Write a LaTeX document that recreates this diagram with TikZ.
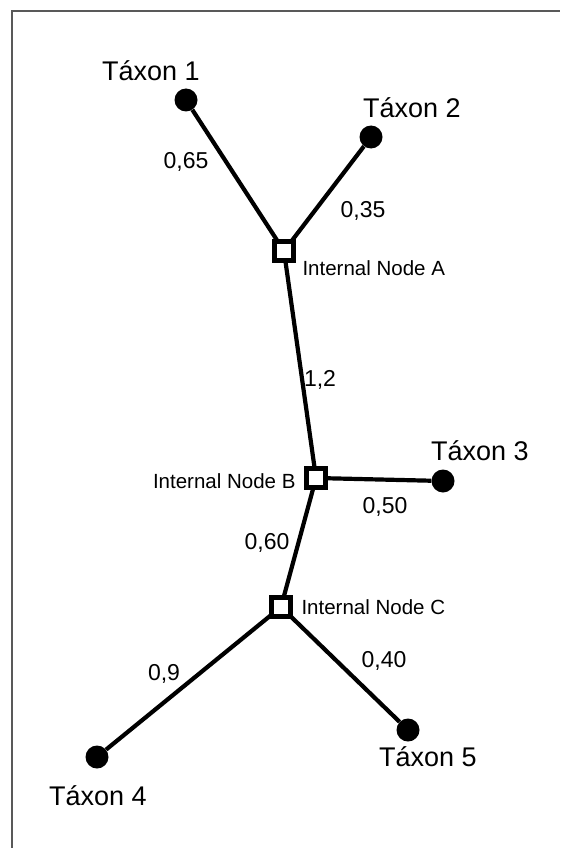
\documentclass[tikz,border=0pt]{standalone}
\usepackage{fontspec}
\setmainfont{Liberation Sans}
\begin{document}
\begin{tikzpicture}[x=1pt,y=-1pt,
  edge/.style={line width=4.2pt},
  leaf/.style={circle,fill=black,minimum size=23pt,inner sep=0pt},
  inner/.style={rectangle,draw=black,fill=white,line width=4.5pt,minimum size=19pt,inner sep=0pt},
  taxon/.style={font=\fontsize{27}{31}\selectfont},
  small/.style={font=\fontsize{20.5}{24}\selectfont},
  elabel/.style={font=\fontsize{23}{27}\selectfont}]
\useasboundingbox (0,0) rectangle (560,848);
\fill[white] (0,0) rectangle (560,848);
\draw[gray!70!black,line width=2pt] (11.5,848) -- (11.5,11.5) -- (560,11.5);
% nodes
\node[leaf] (t1) at (186,100) {};
\node[leaf] (t2) at (371,137) {};
\node[leaf] (t3) at (443,481) {};
\node[leaf] (t4) at (97,757) {};
\node[leaf] (t5) at (408,730) {};
\coordinate (A) at (284,251);
\coordinate (B) at (316,478);
\coordinate (C) at (281,607);
% edges
\draw[edge] (t1) -- (A);
\draw[edge] (t2) -- (A);
\draw[edge] (A) -- (B);
\draw[edge] (B) -- (t3);
\draw[edge] (B) -- (C);
\draw[edge] (C) -- (t4);
\draw[edge] (C) -- (t5);
\node[inner] (nA) at (A) {};
\node[inner] (nB) at (B) {};
\node[inner] (nC) at (C) {};
% labels
\node[taxon] (l1) at (151,71) {Táxon 1};
\node[taxon] (l2) at (412,108) {Táxon 2};
\node[taxon] (l3) at (480,451) {Táxon 3};
\node[taxon] (l4) at (98,796) {Táxon 4};
\node[taxon] (l5) at (428,757) {Táxon 5};
\node[small,anchor=west] (la) at (299,268) {Internal Node A};
\node[small,anchor=east] (lb) at (299,481) {Internal Node B};
\node[small,anchor=west] (lc) at (298,607) {Internal Node C};
\node[elabel] (e1) at (186,162) {0,65};
\node[elabel] (e2) at (363,211) {0,35};
\node[elabel] (e3) at (320,380) {1,2};
\node[elabel] (e4) at (385,507) {0,50};
\node[elabel] (e5) at (267,543) {0,60};
\node[elabel] (e6) at (164,674) {0,9};
\node[elabel] (e7) at (384,661) {0,40};
\end{tikzpicture}
\end{document}
